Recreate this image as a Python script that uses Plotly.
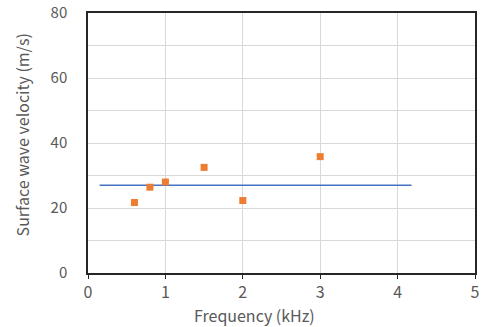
import plotly.graph_objects as go

freq_khz = [0.6, 0.8, 1.0, 1.5, 2.0, 3.0]
velocity = [21.7, 26.4, 28.0, 32.5, 22.3, 35.8]
fit_x = [0.15, 4.18]
fit_y = [27.0, 27.0]

x_title = "Frequency (kHz)"
y_title = "Surface wave velocity (m/s)"

font_family = "Noto Sans CJK JP, Noto Sans, sans-serif"
text_color = "#595959"

fig = go.Figure()
fig.add_trace(go.Scatter(x=fit_x, y=fit_y, mode="lines",
                         line=dict(color="#4472C4", width=1.5), showlegend=False))
fig.add_trace(go.Scatter(x=freq_khz, y=velocity, mode="markers",
                         marker=dict(symbol="square", size=7, color="#ED7D31"),
                         showlegend=False))

fig.update_layout(
    width=481, height=327,
    margin=dict(l=88, r=6, t=13, b=54, autoexpand=False),
    paper_bgcolor="white", plot_bgcolor="white",
    font=dict(family=font_family, size=16, color=text_color),
    xaxis=dict(range=[0, 5], dtick=1, showgrid=True, gridcolor="#d9d9d9", gridwidth=1,
               showline=True, linecolor="#262626", linewidth=1.5, mirror=True,
               ticks="outside", ticklen=4, tickcolor="#262626", zeroline=False,
               automargin=False, ticklabeloverflow="allow"),
    yaxis=dict(range=[0, 80], dtick=20, showgrid=True, gridcolor="#d9d9d9", gridwidth=1,
               minor=dict(dtick=10, showgrid=True, gridcolor="#d9d9d9", gridwidth=1),
               showline=True, linecolor="#262626", linewidth=1.5, mirror=True,
               ticks="", zeroline=False, ticklabelstandoff=16,
               tickfont=dict(size=15),
               automargin=False, ticklabeloverflow="allow"),
    annotations=[
        dict(text=x_title, xref="paper", yref="paper", x=0.43, y=-0.16,
             xanchor="center", yanchor="middle", showarrow=False,
             font=dict(size=16, color=text_color)),
        dict(text=y_title, xref="paper", yref="paper", x=-0.170, y=0.53,
             xanchor="center", yanchor="middle", showarrow=False, textangle=-90,
             font=dict(size=16, color=text_color)),
    ],
)

fig.write_html("out.html",
               config={"displayModeBar": False},
               post_script="document.body.style.margin='0';document.body.style.overflow='hidden';")
